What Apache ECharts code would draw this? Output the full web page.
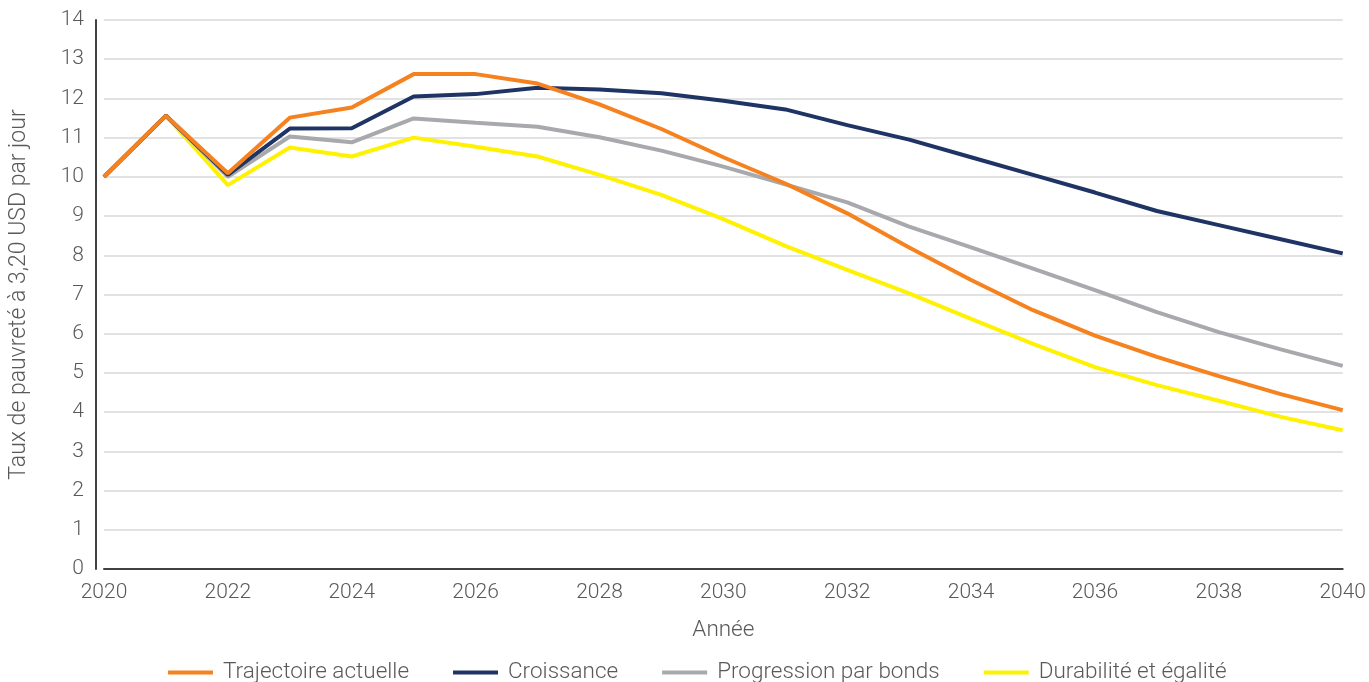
<!DOCTYPE html>
<html>
<head>
<meta charset="utf-8">
<script src="https://cdn.jsdelivr.net/npm/echarts@6/dist/echarts.min.js"></script>
<style>
  html, body { margin: 0; padding: 0; background: #fff; }
  #main { width: 1369px; height: 682px; }
</style>
</head>
<body>
<div id="main"></div>
<script>
// années 2020 - 2040
const years = ['2020','2021','2022','2023','2024','2025','2026','2027','2028','2029','2030',
  '2031','2032','2033','2034','2035','2036','2037','2038','2039','2040'];

const trajectoire = [10.0, 11.56, 10.09, 11.51, 11.77, 12.62, 12.62, 12.38, 11.85, 11.22, 10.5,
  9.83, 9.07, 8.2, 7.37, 6.6, 5.95, 5.41, 4.92, 4.46, 4.05];
const croissance = [10.0, 11.56, 10.05, 11.23, 11.24, 12.05, 12.11, 12.27, 12.23, 12.13, 11.94,
  11.72, 11.32, 10.95, 10.5, 10.05, 9.6, 9.13, 8.77, 8.41, 8.05];
const progression = [10.0, 11.56, 10.0, 11.03, 10.88, 11.49, 11.38, 11.28, 11.01, 10.67, 10.26,
  9.81, 9.35, 8.73, 8.2, 7.66, 7.11, 6.55, 6.04, 5.6, 5.18];
const durabilite = [10.0, 11.56, 9.79, 10.75, 10.52, 11.0, 10.77, 10.52, 10.05, 9.54, 8.92,
  8.24, 7.63, 7.03, 6.38, 5.74, 5.15, 4.69, 4.29, 3.88, 3.54];

const names = ['Trajectoire actuelle', 'Croissance', 'Progression par bonds', 'Durabilité et égalité'];
const colors = ['#f5821f', '#1f3464', '#a7a9ac', '#fff200'];

const font = 'Roboto';
const txt = '#595959';

let chart = echarts.init(document.getElementById('main'));

function mkSeries(name, data, i) {
  return {
    name: name,
    type: 'line',
    data: data,
    symbol: 'none',
    z: 10 - i,
    lineStyle: { width: 4, color: colors[i] },
    itemStyle: { color: colors[i] }
  };
}

let option = {
  animation: false,
  grid: { left: 103, right: 24, top: 20, bottom: 113 },
  legend: {
    top: 656,
    left: 163,
    icon: 'rect',
    itemWidth: 45,
    itemHeight: 4,
    itemGap: 44,
    data: names,
    textStyle: { fontFamily: font, fontWeight: 300, fontSize: 22.5, color: txt, padding: [0, 0, 0, 5] }
  },
  xAxis: {
    type: 'category',
    data: years,
    boundaryGap: false,
    name: 'Année',
    nameLocation: 'middle',
    nameGap: 50,
    nameTextStyle: { fontFamily: font, fontWeight: 300, fontSize: 22.5, color: txt },
    axisLine: { lineStyle: { color: '#404040', width: 2 } },
    axisTick: { show: false },
    axisLabel: {
      interval: 1,
      margin: 13,
      fontFamily: font, fontWeight: 300, fontSize: 21, color: txt
    },
    splitLine: { show: false }
  },
  yAxis: {
    type: 'value',
    min: 0,
    max: 14,
    interval: 1,
    offset: 8,
    name: 'Taux de pauvreté à 3,20 USD par jour',
    nameLocation: 'middle',
    nameGap: 65,
    nameTextStyle: { fontFamily: font, fontWeight: 300, fontSize: 23, color: txt },
    axisLine: { show: true, lineStyle: { color: '#404040', width: 2 } },
    axisTick: { show: false },
    axisLabel: { margin: 12, fontFamily: font, fontWeight: 300, fontSize: 21, color: txt },
    splitLine: { lineStyle: { color: '#d9d9d9', width: 1.5 } }
  },
  series: [
    mkSeries(names[0], trajectoire, 0),
    mkSeries(names[1], croissance, 1),
    mkSeries(names[2], progression, 2),
    mkSeries(names[3], durabilite, 3)
  ]
};

chart.setOption(option);
</script>
</body>
</html>
